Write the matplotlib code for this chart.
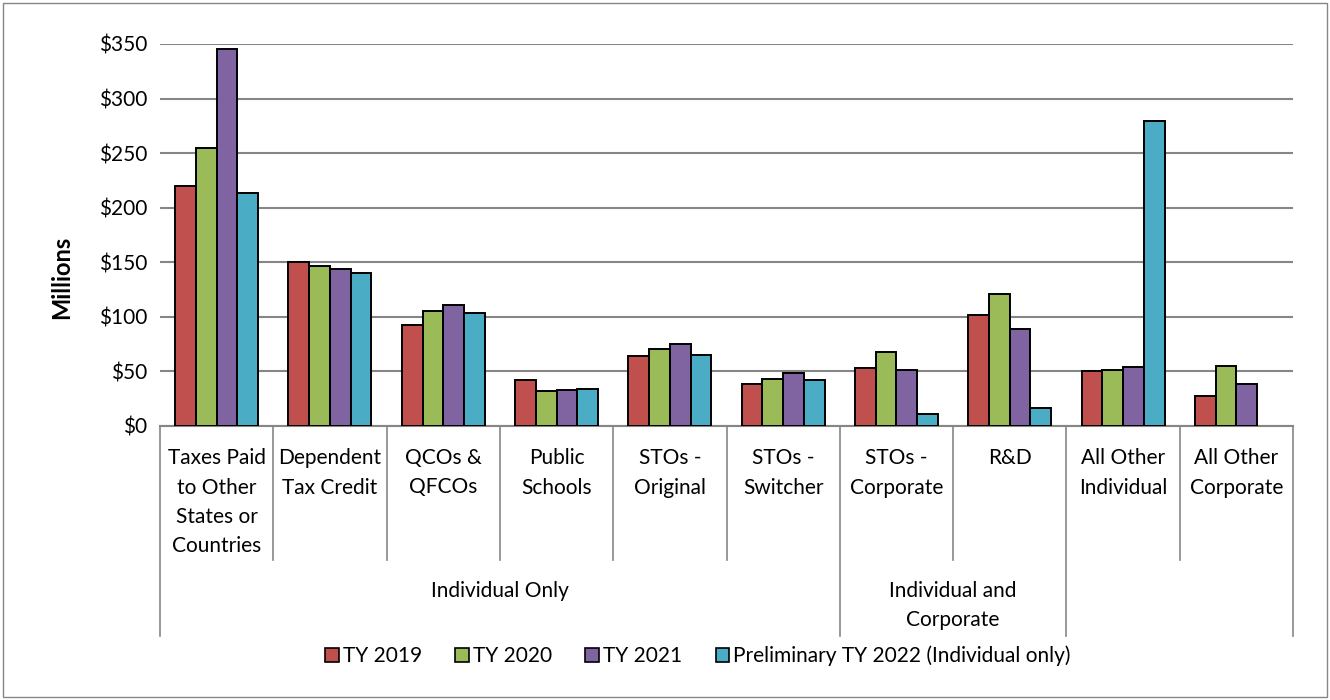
import numpy as np
import matplotlib.pyplot as plt
from matplotlib.patches import Patch, Rectangle

# --- Dados (milhões de dólares) ---
categorias = ["Taxes Paid\nto Other\nStates or\nCountries", "Dependent\nTax Credit",
              "QCOs &\nQFCOs", "Public\nSchools", "STOs -\nOriginal", "STOs -\nSwitcher",
              "STOs -\nCorporate", "R&D", "All Other\nIndividual", "All Other\nCorporate"]
grupos = ["Individual Only", "Individual and\nCorporate", ""]
grupo_limites = [0, 6, 8, 10]  # indices de inicio/fim de cada grupo

series = ["TY 2019", "TY 2020", "TY 2021", "Preliminary TY 2022 (Individual only)"]
ty2019 = [220, 150, 92.5, 42.5, 64.5, 38.7, 52.8, 101.5, 50.4, 27.8]
ty2020 = [255, 146.5, 105.5, 32, 70.5, 43.5, 67.5, 121, 51.3, 55]
ty2021 = [345, 144, 111, 33, 75, 48.5, 51.5, 89, 53.8, 38.8]
ty2022 = [213.5, 140, 103.5, 34, 65.5, 42, 11, 16.5, 279, np.nan]
cores = ["#C0504D", "#9BBB59", "#8064A2", "#4BACC6"]

W, H = 1330, 700
FONTE = "Lato"
TAM = 15

fig = plt.figure(figsize=(W / 100, H / 100), dpi=100)
fig.patches.append(Rectangle((3 / W, 3 / H), 1 - 6 / W, 1 - 6 / H, transform=fig.transFigure,
                             fill=False, edgecolor="#868686", lw=1))

# eixo: x de 160 a 1293 px, y de 44 a 426 px
ax_left, ax_right, ax_top, ax_bot = 160, 1293, 44, 426
ax = fig.add_axes([ax_left / W, 1 - ax_bot / H, (ax_right - ax_left) / W, (ax_bot - ax_top) / H])

n = len(categorias)
x = np.arange(n)
larg = 0.183
for i, (vals, cor) in enumerate(zip([ty2019, ty2020, ty2021, ty2022], cores)):
    ax.bar(x + (i - 1.5) * larg, vals, width=larg, color=cor, edgecolor="black",
           linewidth=1.4, zorder=3)

ax.set_xlim(-0.5, n - 0.5)
ax.set_ylim(0, 350)
ax.set_yticks(np.arange(0, 351, 50))
ax.set_yticklabels([f"${v}" for v in range(0, 351, 50)], fontsize=TAM, family=FONTE)
ax.tick_params(axis="y", length=0, pad=9)
ax.set_xticks([])
ax.yaxis.grid(True, color="#868686", lw=1.5, zorder=0)
for s in ["top", "right", "left"]:
    ax.spines[s].set_visible(False)
ax.spines["bottom"].set_color("#868686")
ax.spines["bottom"].set_linewidth(1.5)

# --- eixo de categorias em dois niveis ---
def frac(py):
    return (ax_bot - py) / (ax_bot - ax_top)

trans = ax.get_xaxis_transform()
for i, cat in enumerate(categorias):
    for j, linha in enumerate(cat.split("\n")):
        ax.text(i, frac(458 + 29.5 * j), linha, transform=trans, ha="center", va="center",
                fontsize=TAM, family=FONTE, clip_on=False)

for k in range(n + 1):
    longo = k in grupo_limites
    y_fim = 636 if longo else 560
    ax.plot([k - 0.5, k - 0.5], [0, frac(y_fim)], transform=trans, color="#868686",
            lw=1.2, clip_on=False)

for g, nome in enumerate(grupos):
    centro = (grupo_limites[g] + grupo_limites[g + 1]) / 2 - 0.5
    linhas = nome.split("\n")
    for j, linha in enumerate(linhas):
        ax.text(centro, frac(591 + 29.5 * j), linha, transform=trans, ha="center",
                va="center", fontsize=TAM, family=FONTE, clip_on=False)

fig.text(62 / W, 1 - 277 / H, "Millions", rotation=90, ha="center", va="center",
         fontsize=17, fontweight="bold", family=FONTE)

handles = [Patch(facecolor=c, edgecolor="black", lw=1.2) for c in cores]
fig.legend(handles, series, loc="center", bbox_to_anchor=(698 / W, 1 - 656 / H), ncol=4,
           frameon=False, handlelength=0.65, handleheight=0.65, handletextpad=0.2,
           columnspacing=1.6, prop={"family": FONTE, "size": TAM})

fig.savefig("out.png", dpi=100)
